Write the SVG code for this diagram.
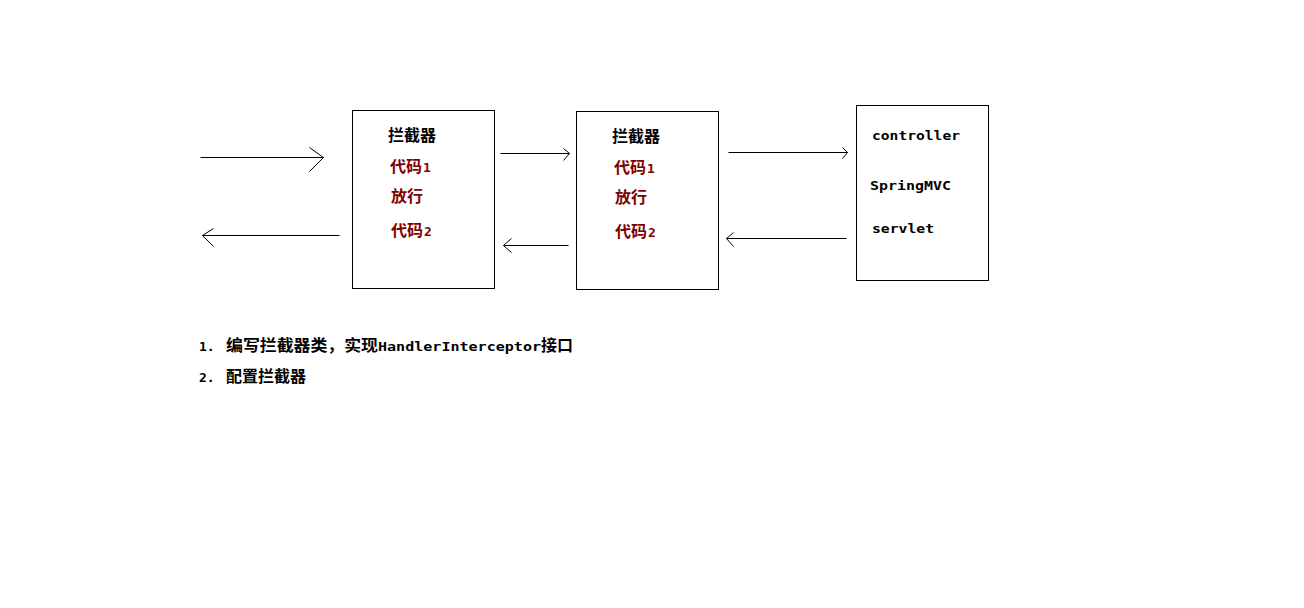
<svg xmlns="http://www.w3.org/2000/svg" width="1304" height="608" viewBox="0 0 1304 608">
<style>
.box{fill:#fff;stroke:#000;stroke-width:1}
.ln{fill:none;stroke:#000;stroke-width:1}
.cjk{font-family:"Noto Sans CJK SC","Noto Sans",sans-serif;font-weight:bold;font-size:16px;fill:#000}
.red{fill:#800000}
.mono{font-family:"DejaVu Sans Mono","Liberation Mono",monospace;font-weight:bold;font-size:13px;fill:#000}
.dig{font-family:"DejaVu Sans Mono","Liberation Mono",monospace;font-weight:bold;font-size:13px;fill:#800000}
</style>
<rect width="1304" height="608" fill="#fff"/>
<g id="connectors">
  <path class="ln" d="M200.5 157.5H323.5M309.5 147.5L323.5 157.5L309.5 171.5"/>
  <path class="ln" d="M339.5 235.5H202.5M213.5 228.5L202.5 235.5L213.5 246.5"/>
  <path class="ln" d="M500.5 153.5H569.5M563.5 148.5L569.5 153.5L563.5 160.5"/>
  <path class="ln" d="M568.5 245.5H503.5M511.5 238.5L503.5 245.5L511.5 252.5"/>
  <path class="ln" d="M728.5 152.5H847.5M842.5 147.5L847.5 152.5L842.5 158.5"/>
  <path class="ln" d="M846.5 238.5H726.5M733.5 232.5L726.5 238.5L733.5 246.5"/>
</g>
<g id="interceptor1">
  <rect class="box" x="352.5" y="110.5" width="142" height="178"/>
  <text class="cjk" x="388" y="141">拦截器</text>
  <text class="cjk red" x="390" y="172">代码<tspan class="dig" dx="1">1</tspan></text>
  <text class="cjk red" x="391" y="202">放行</text>
  <text class="cjk red" x="391" y="236">代码<tspan class="dig" dx="1">2</tspan></text>
</g>
<g id="interceptor2">
  <rect class="box" x="576.5" y="111.5" width="142" height="178"/>
  <text class="cjk" x="612" y="142">拦截器</text>
  <text class="cjk red" x="614" y="173">代码<tspan class="dig" dx="1">1</tspan></text>
  <text class="cjk red" x="615" y="203">放行</text>
  <text class="cjk red" x="615" y="237">代码<tspan class="dig" dx="1">2</tspan></text>
</g>
<g id="controller">
  <rect class="box" x="856.5" y="105.5" width="132" height="175"/>
  <text class="mono" x="872" y="140" textLength="88" lengthAdjust="spacingAndGlyphs">controller</text>
  <text class="mono" x="870" y="190" textLength="81" lengthAdjust="spacingAndGlyphs">SpringMVC</text>
  <text class="mono" x="872" y="233" textLength="62" lengthAdjust="spacingAndGlyphs">servlet</text>
</g>
<g id="notes">
  <text class="mono" x="199" y="351">1.</text>
  <text class="cjk" x="226" y="351" textLength="152" lengthAdjust="spacingAndGlyphs">编写拦截器类，实现</text>
  <text class="mono" x="378" y="351" textLength="163" lengthAdjust="spacingAndGlyphs">HandlerInterceptor</text>
  <text class="cjk" x="541" y="351">接口</text>
  <text class="mono" x="199" y="382">2.</text>
  <text class="cjk" x="226" y="382">配置拦截器</text>
</g>
</svg>
